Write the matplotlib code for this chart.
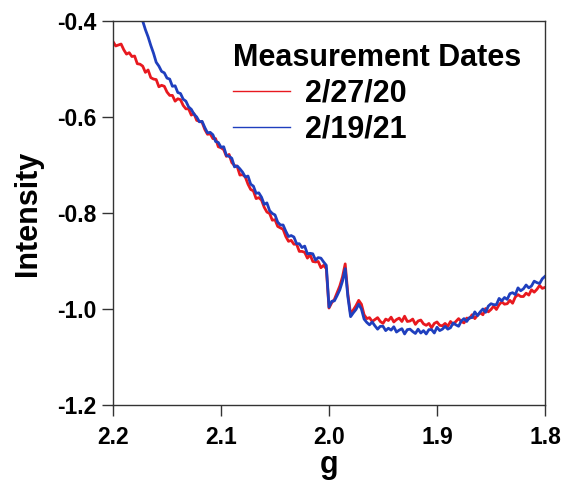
import numpy as np
import matplotlib
matplotlib.use("Agg")
import matplotlib.pyplot as plt

plt.rcParams["font.family"] = ["Liberation Sans", "DejaVu Sans"]
plt.rcParams["font.weight"] = "bold"

# magnetic field sweep expressed as g value (2.2 -> 1.8, 161 samples)
g_values = np.linspace(2.2, 1.8, 161)

labels = ["2/27/20", "2/19/21"]
legend_title = "Measurement Dates"

# spectrum measured 2/27/20 (full sweep)
intensity_2020 = [
    -0.443, -0.452, -0.450, -0.448, -0.460, -0.469, -0.466, -0.474, -0.473, -0.489,
    -0.490, -0.494, -0.507, -0.502, -0.518, -0.521, -0.522, -0.537, -0.534, -0.536,
    -0.548, -0.555, -0.555, -0.567, -0.562, -0.564, -0.576, -0.583, -0.583, -0.596,
    -0.593, -0.607, -0.609, -0.611, -0.626, -0.636, -0.635, -0.645, -0.645, -0.662,
    -0.664, -0.668, -0.682, -0.678, -0.695, -0.701, -0.703, -0.721, -0.720, -0.725,
    -0.740, -0.751, -0.754, -0.770, -0.768, -0.773, -0.788, -0.798, -0.801, -0.815,
    -0.814, -0.828, -0.831, -0.834, -0.849, -0.859, -0.857, -0.865, -0.865, -0.880,
    -0.880, -0.882, -0.894, -0.887, -0.901, -0.902, -0.901, -0.914, -0.909, -0.916,
    -0.998, -0.987, -0.980, -0.966, -0.952, -0.933, -0.906, -0.970, -1.010, -1.002,
    -0.993, -0.982, -0.990, -1.012, -1.020, -1.018, -1.026, -1.022, -1.018, -1.026,
    -1.030, -1.021, -1.024, -1.017, -1.027, -1.022, -1.019, -1.026, -1.015, -1.026,
    -1.025, -1.021, -1.032, -1.025, -1.023, -1.031, -1.034, -1.030, -1.039, -1.030,
    -1.027, -1.034, -1.035, -1.030, -1.036, -1.026, -1.032, -1.026, -1.020, -1.026,
    -1.029, -1.019, -1.020, -1.012, -1.020, -1.013, -1.008, -1.012, -0.999, -1.006,
    -1.001, -0.994, -1.001, -0.991, -0.985, -0.990, -0.989, -0.982, -0.988, -0.975,
    -0.970, -0.974, -0.974, -0.967, -0.971, -0.960, -0.965, -0.959, -0.951, -0.957,
    -0.955,
]

# spectrum measured 2/19/21 (recorded from g = 2.175 onward)
intensity_2021 = [
    -0.385, -0.400, -0.418, -0.433, -0.451, -0.467, -0.486, -0.494, -0.505, -0.508,
    -0.519, -0.521, -0.536, -0.535, -0.549, -0.551, -0.563, -0.567, -0.579, -0.584,
    -0.594, -0.600, -0.610, -0.609, -0.622, -0.633, -0.632, -0.637, -0.651, -0.653,
    -0.663, -0.662, -0.680, -0.682, -0.686, -0.704, -0.702, -0.708, -0.715, -0.725,
    -0.723, -0.740, -0.744, -0.759, -0.758, -0.767, -0.782, -0.779, -0.795, -0.801,
    -0.804, -0.819, -0.825, -0.825, -0.838, -0.849, -0.847, -0.850, -0.864, -0.864,
    -0.872, -0.869, -0.885, -0.884, -0.885, -0.898, -0.893, -0.894, -0.902, -0.909,
    -0.996, -0.984, -0.983, -0.972, -0.960, -0.942, -0.916, -0.975, -1.016, -1.008,
    -1.001, -0.990, -1.000, -1.021, -1.028, -1.033, -1.027, -1.035, -1.042, -1.036,
    -1.036, -1.045, -1.040, -1.044, -1.037, -1.048, -1.044, -1.041, -1.052, -1.043,
    -1.042, -1.047, -1.051, -1.042, -1.050, -1.045, -1.052, -1.043, -1.043, -1.050,
    -1.038, -1.045, -1.042, -1.036, -1.042, -1.039, -1.029, -1.033, -1.036, -1.025,
    -1.020, -1.026, -1.018, -1.018, -1.006, -1.014, -1.006, -1.000, -1.007, -0.994,
    -0.989, -0.991, -0.991, -0.978, -0.983, -0.976, -0.980, -0.968, -0.966, -0.970,
    -0.956, -0.962, -0.958, -0.950, -0.956, -0.952, -0.942, -0.945, -0.947, -0.937,
    -0.932,
]

x_ticks = [2.2, 2.1, 2.0, 1.9, 1.8]
y_ticks = [-1.2, -1.0, -0.8, -0.6, -0.4]

fig = plt.figure(figsize=(5.64, 4.82), dpi=100)
ax = fig.add_axes([113 / 564, 1 - 405 / 482, 432 / 564, 384 / 482])

red = "#e8191f"
blue = "#1f3fbe"
start_2021 = len(g_values) - len(intensity_2021)
ax.plot(g_values, intensity_2020, color=red, lw=2.0, label=labels[0])
ax.plot(g_values[start_2021:], intensity_2021, color=blue, lw=2.0, label=labels[1])

ax.set_xlim(2.2, 1.8)
ax.set_ylim(-1.2, -0.4)
ax.set_xticks(x_ticks)
ax.set_xticklabels([f"{v:.1f}" for v in x_ticks])
ax.set_yticks(y_ticks)
ax.set_yticklabels([f"{v:.1f}" for v in y_ticks])
ax.tick_params(axis="both", which="major", direction="out", length=8,
               width=1.0, color="#333333", labelsize=16.5, pad=4)
ax.tick_params(axis="x", pad=7)
for sp in ax.spines.values():
    sp.set_color("#333333")
    sp.set_linewidth(1.0)

ax.set_xlabel("g", fontsize=22, fontweight="bold", labelpad=1)
ax.set_ylabel("Intensity", fontsize=22, fontweight="bold", labelpad=10)

leg = ax.legend(title=legend_title, loc="upper left",
                bbox_to_anchor=(0.278, 0.944), frameon=False,
                fontsize=22, alignment="left",
                title_fontproperties={"weight": "bold", "size": 22},
                handlelength=1.85, handletextpad=0.5, labelspacing=0.2,
                borderpad=0, borderaxespad=0)
for h in leg.legend_handles:
    h.set_linewidth(1.0)

fig.savefig("out.png", dpi=100)
